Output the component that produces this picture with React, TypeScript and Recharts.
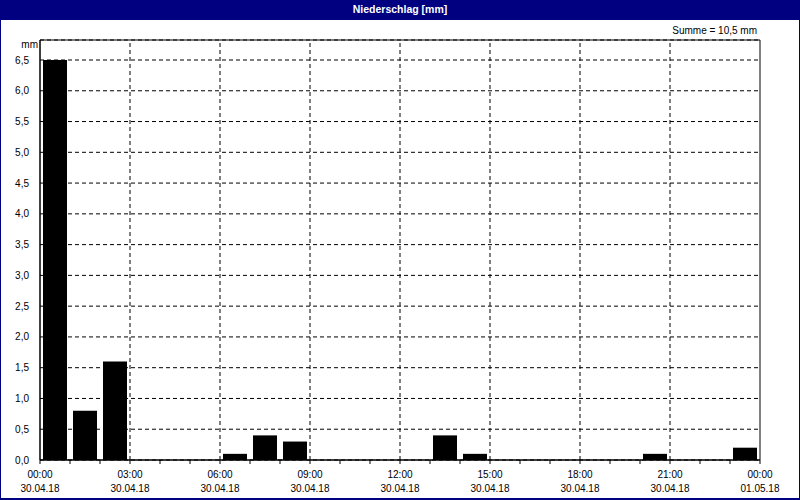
import React from "react";
import {
  BarChart,
  Bar,
  XAxis,
  YAxis,
  CartesianGrid,
  ReferenceArea,
  ReferenceLine,
} from "recharts";

const hours = [0, 1, 2, 3, 4, 5, 6, 7, 8, 9, 10, 11, 12, 13, 14, 15, 16, 17, 18, 19, 20, 21, 22, 23];
const rain = [6.5, 0.8, 1.6, 0, 0, 0, 0.1, 0.4, 0.3, 0, 0, 0, 0, 0.4, 0.1, 0, 0, 0, 0, 0, 0.1, 0, 0, 0.2];
const timeTicks = [0, 1, 2, 3, 4, 5, 6, 7, 8, 9, 10, 11, 12, 13, 14, 15, 16, 17, 18, 19, 20, 21, 22, 23, 24];
const majorHours = [0, 3, 6, 9, 12, 15, 18, 21, 24];
const timeLabels = ["00:00", "03:00", "06:00", "09:00", "12:00", "15:00", "18:00", "21:00", "00:00"];
const dateLabels = ["30.04.18", "30.04.18", "30.04.18", "30.04.18", "30.04.18", "30.04.18", "30.04.18", "30.04.18", "01.05.18"];
const yTicks = [0, 0.5, 1, 1.5, 2, 2.5, 3, 3.5, 4, 4.5, 5, 5.5, 6, 6.5];
const yMax = 6.825;
const gridX = [3, 6, 9, 12, 15, 18, 21];
const title = "Niederschlag [mm]";
const unit = "mm";
const sumLabel = "Summe = 10,5 mm";

const data = hours.map((h, i) => ({ hour: h, rain: rain[i] }));

const FONT = "'Liberation Sans', Arial, sans-serif";
const NAVY = "#000080";

const fmtNum = (v: number) => v.toFixed(1).replace(".", ",");

const TimeTick = (props: any) => {
  const { x, y, payload } = props;
  const idx = majorHours.indexOf(payload.value);
  if (idx < 0) return null;
  return (
    <g>
      <text x={x} y={y + 12} textAnchor="middle" fontSize={10} fontFamily={FONT} fill="#000">
        {timeLabels[idx]}
      </text>
      <text x={x} y={y + 26} textAnchor="middle" fontSize={10} fontFamily={FONT} fill="#000">
        {dateLabels[idx]}
      </text>
    </g>
  );
};

export default function App() {
  return (
    <div
      style={{
        position: "absolute",
        left: 0,
        top: 0,
        width: 800,
        height: 500,
        boxSizing: "border-box",
        borderLeft: `1px solid ${NAVY}`,
        borderRight: `1px solid ${NAVY}`,
        borderBottom: `2px solid ${NAVY}`,
        background: "#fff",
        overflow: "hidden",
      }}
    >
      <div
        style={{
          position: "absolute",
          left: -1,
          top: 0,
          width: 800,
          height: 20,
          background: NAVY,
          color: "#fff",
          fontFamily: FONT,
          fontWeight: "bold",
          fontSize: 10.5,
          lineHeight: "19px",
          textAlign: "center",
        }}
      >
        {title}
      </div>
      <div
        style={{
          position: "absolute",
          left: -1,
          top: 0,
        }}
      >
        <BarChart
          width={800}
          height={500}
          data={data}
          margin={{ top: 40, right: 40, bottom: 0, left: 0 }}
          barCategoryGap={3}
        >
          <CartesianGrid stroke="#000" strokeDasharray="4 3" vertical={false} />
          <XAxis xAxisId="cat" dataKey="hour" type="category" hide height={0} />
          <XAxis
            xAxisId="time"
            dataKey="hour"
            type="number"
            domain={[0, 24]}
            ticks={timeTicks}
            interval={0}
            height={40}
            tickSize={4}
            tickMargin={2}
            axisLine={{ stroke: "#000" }}
            tickLine={{ stroke: "#000" }}
            tick={<TimeTick />}
            allowDataOverflow
          />
          <YAxis
            type="number"
            domain={[0, yMax]}
            ticks={yTicks}
            interval={0}
            width={40}
            tickLine={false}
            tickMargin={5}
            axisLine={{ stroke: "#000" }}
            tick={{ fontSize: 10, fontFamily: FONT, fill: "#000" }}
            tickFormatter={fmtNum}
            allowDataOverflow
          />
          {gridX.map((v) => (
            <ReferenceLine
              key={v}
              xAxisId="time"
              x={v}
              stroke="#000"
              strokeDasharray="4 3"
            />
          ))}
          <ReferenceArea
            xAxisId="time"
            x1={0}
            x2={24}
            y1={0}
            y2={yMax}
            fill="none"
            stroke="#000"
            strokeWidth={1}
            ifOverflow="visible"
          />
          <Bar xAxisId="cat" dataKey="rain" fill="#000" isAnimationActive={false} />
        </BarChart>
      </div>
      <div
        style={{
          position: "absolute",
          right: 42,
          top: 25,
          fontFamily: FONT,
          fontSize: 10,
          lineHeight: "12px",
          color: "#000",
          whiteSpace: "nowrap",
        }}
      >
        {sumLabel}
      </div>
      <div
        style={{
          position: "absolute",
          left: 0,
          width: 37,
          top: 39,
          textAlign: "right",
          fontFamily: FONT,
          fontSize: 10,
          lineHeight: "12px",
          color: "#000",
        }}
      >
        {unit}
      </div>
    </div>
  );
}
